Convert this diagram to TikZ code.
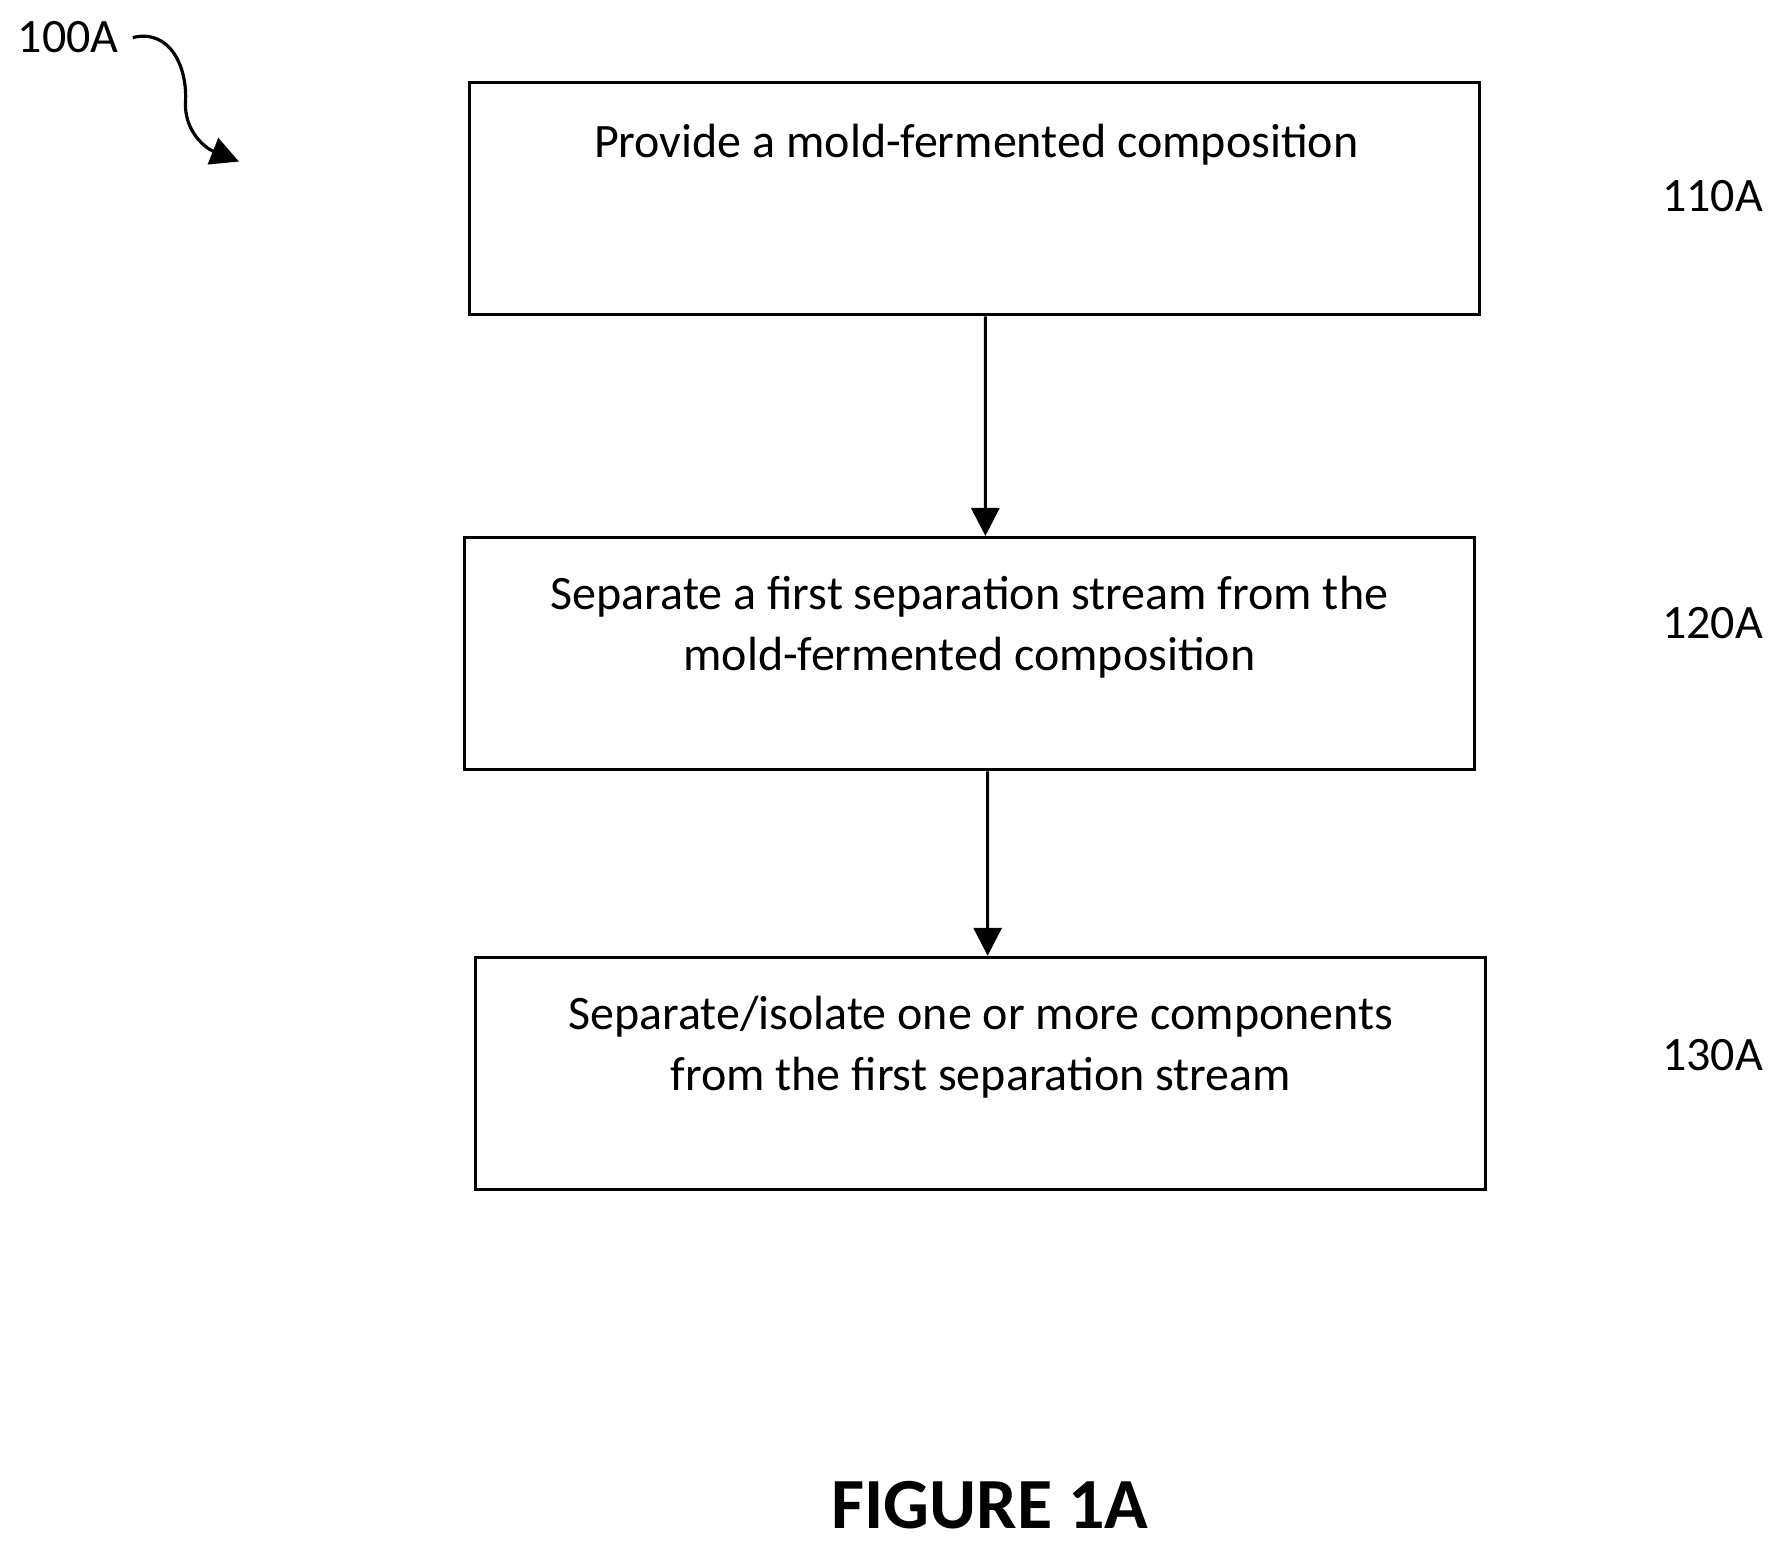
\documentclass[tikz,border=0pt]{standalone}
\usepackage{fontspec}
\setmainfont{Carlito}
\usetikzlibrary{arrows.meta}
\tikzset{
  stepbox/.style={draw=black, thick, minimum width=8.87cm, minimum height=2.04cm, inner sep=0pt},
  steptext/.style={anchor=north, align=center, font=\fontsize{12}{15.3}\selectfont},
  reflabel/.style={font=\fontsize{12}{15.3}\selectfont},
  flow/.style={-{Triangle[length=7pt,width=7pt]}, thick}
}
\begin{document}
\begin{tikzpicture}[x=0.01cm, y=-0.01cm]
  \useasboundingbox (0,0) rectangle (1560,1355);

  % boxes
  \node[stepbox] (box1) at (856.5,174.5) {};
  \node[stepbox] (box2) at (852,574.5) {};
  \node[stepbox] (box3) at (862,943.5) {};

  \node[steptext] (text1) at (858,97) {Provide a mold-fermented composition};
  \node[steptext] (text2) at (852,494) {Separate a first separation stream from the\\mold-fermented composition};
  \node[steptext] (text3) at (862,863) {Separate/isolate one or more components\\from the first separation stream};

  % step labels
  \node[reflabel] (lab1) at (1505,172) {110A};
  \node[reflabel] (lab2) at (1505,548) {120A};
  \node[reflabel] (lab3) at (1505,927) {130A};
  \node[reflabel] (lab0) at (60,33) {100A};

  % arrows
  \draw[flow] ([xshift=0.095cm]box1.south) -- ([xshift=0.14cm]box2.north);
  \draw[flow] ([xshift=0.16cm]box2.south) -- ([xshift=0.06cm]box3.north);

  \coordinate (tip0) at (210,142);
  \draw[flow] (lab0.east) .. controls (150,25) and (165,60) .. (163,90)
    .. controls (162,115) and (180,130) .. (tip0);

  \node[font=\bfseries\fontsize{18}{22}\selectfont] (fig) at (870,1323) {FIGURE 1A};
\end{tikzpicture}
\end{document}
